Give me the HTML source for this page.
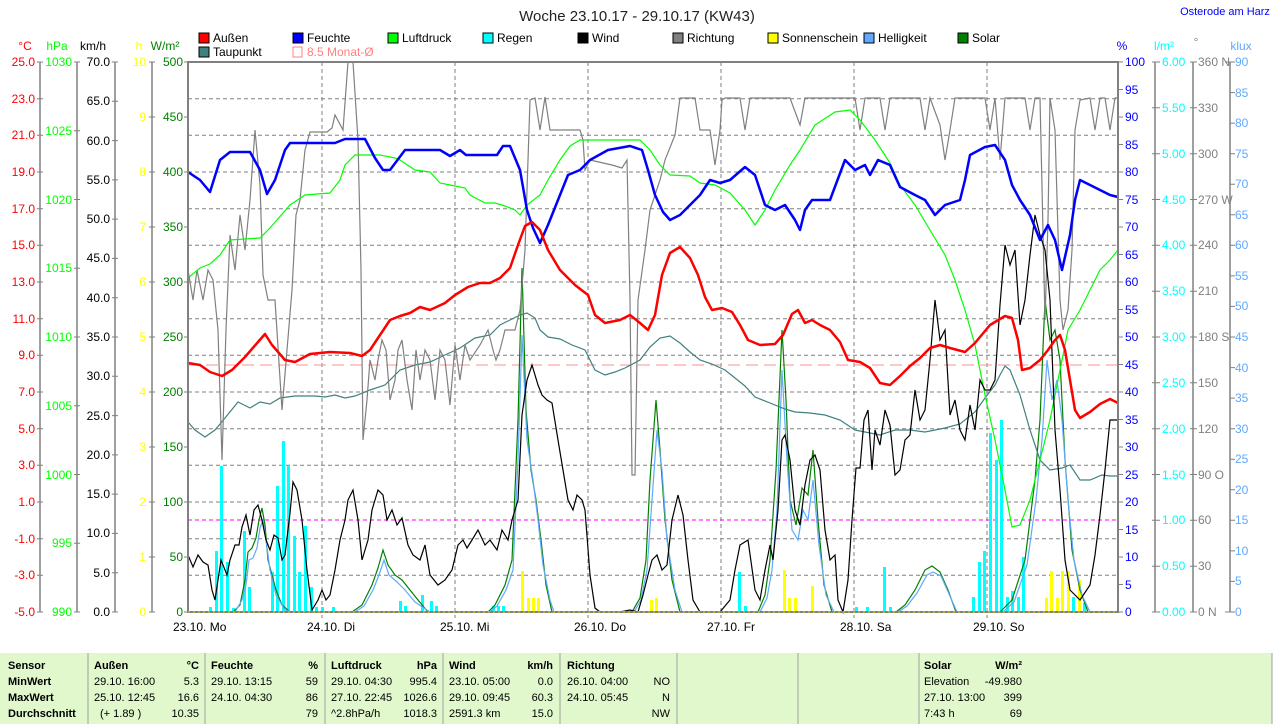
<!DOCTYPE html>
<html><head><meta charset="utf-8">
<style>
html,body{margin:0;padding:0;background:#fff;width:1274px;height:724px;overflow:hidden;}
svg{display:block;font-family:"Liberation Sans",sans-serif;}
.t{font-family:"Liberation Sans",sans-serif;font-size:11px;font-weight:bold;}
.n{font-family:"Liberation Sans",sans-serif;font-size:11px;}
</style></head><body>
<svg width="1274" height="724" viewBox="0 0 1274 724" xmlns="http://www.w3.org/2000/svg">
<rect width="1274" height="724" fill="#fff"/>
<text x="637" y="21" font-size="15" text-anchor="middle" fill="#222">Woche 23.10.17 - 29.10.17 (KW43)</text>
<text x="1225" y="15" font-size="11" text-anchor="middle" fill="#0000ff">Osterode am Harz</text>
<!-- legend -->
<g font-size="12" fill="#000">
<rect x="199" y="33" width="10" height="10" fill="#ff0000" stroke="#000"/><text x="213" y="42">Außen</text>
<rect x="293" y="33" width="10" height="10" fill="#0000ff" stroke="#000"/><text x="307" y="42">Feuchte</text>
<rect x="388" y="33" width="10" height="10" fill="#00ff00" stroke="#000"/><text x="402" y="42">Luftdruck</text>
<rect x="483" y="33" width="10" height="10" fill="#00ffff" stroke="#000"/><text x="497" y="42">Regen</text>
<rect x="578" y="33" width="10" height="10" fill="#000" stroke="#000"/><text x="592" y="42">Wind</text>
<rect x="673" y="33" width="10" height="10" fill="#808080" stroke="#000"/><text x="687" y="42">Richtung</text>
<rect x="768" y="33" width="10" height="10" fill="#ffff00" stroke="#000"/><text x="782" y="42">Sonnenschein</text>
<rect x="864" y="33" width="10" height="10" fill="#60a8ff" stroke="#000"/><text x="878" y="42">Helligkeit</text>
<rect x="958" y="33" width="10" height="10" fill="#008000" stroke="#000"/><text x="972" y="42">Solar</text>
<rect x="199" y="47" width="10" height="10" fill="#408080" stroke="#000"/><text x="213" y="56">Taupunkt</text>
<rect x="293" y="47" width="9" height="10" fill="none" stroke="#ff8080"/><text x="307" y="56" fill="#ff8080">8.5 Monat-Ø</text>
</g>
<!-- axis units -->
<g font-size="12">
<text x="25" y="50" fill="#ff0000" text-anchor="middle">°C</text>
<text x="57" y="50" fill="#00ff00" text-anchor="middle">hPa</text>
<text x="93" y="50" fill="#000" text-anchor="middle">km/h</text>
<text x="139" y="50" fill="#ffff00" text-anchor="middle">h</text>
<text x="165" y="50" fill="#008000" text-anchor="middle">W/m²</text>
<text x="1122" y="50" fill="#0000ff" text-anchor="middle">%</text>
<text x="1164" y="50" fill="#00ffff" text-anchor="middle">l/m²</text>
<text x="1196" y="46" fill="#808080" text-anchor="middle">°</text>
<text x="1241" y="50" fill="#60a8ff" text-anchor="middle">klux</text>
</g>
<!-- axis lines -->
<g stroke="#808080" stroke-width="1.5">
<line x1="40" y1="62" x2="40" y2="612"/><line x1="77" y1="62" x2="77" y2="612"/>
<line x1="115" y1="62" x2="115" y2="612"/><line x1="152" y1="62" x2="152" y2="612"/>
<line x1="1155" y1="62" x2="1155" y2="612"/><line x1="1193" y1="62" x2="1193" y2="612"/>
<line x1="1230" y1="62" x2="1230" y2="612"/>
</g>
<g font-size="12" fill="#ff0000" text-anchor="end">
<text x="35" y="66">25.0</text><text x="35" y="103">23.0</text><text x="35" y="139">21.0</text><text x="35" y="176">19.0</text><text x="35" y="213">17.0</text><text x="35" y="249">15.0</text><text x="35" y="286">13.0</text><text x="35" y="323">11.0</text><text x="35" y="359">9.0</text><text x="35" y="396">7.0</text><text x="35" y="433">5.0</text><text x="35" y="469">3.0</text><text x="35" y="506">1.0</text><text x="35" y="543">-1.0</text><text x="35" y="579">-3.0</text><text x="35" y="616">-5.0</text>
</g>
<g stroke="#808080"><path d="M37 62h6M37 98.7h6M37 135.3h6M37 172h6M37 208.7h6M37 245.3h6M37 282h6M37 318.7h6M37 355.3h6M37 392h6M37 428.7h6M37 465.3h6M37 502h6M37 538.7h6M37 575.3h6M37 612h6"/>
<path d="M74 62h6M74 130.75h6M74 199.5h6M74 268.25h6M74 337h6M74 405.75h6M74 474.5h6M74 543.25h6M74 612h6"/>
<path d="M112 62h6M112 101.3h6M112 140.6h6M112 179.9h6M112 219.1h6M112 258.4h6M112 297.7h6M112 337h6M112 376.3h6M112 415.6h6M112 454.9h6M112 494.1h6M112 533.4h6M112 572.7h6M112 612h6"/>
<path d="M149 62h6M149 117h6M149 172h6M149 227h6M149 282h6M149 337h6M149 392h6M149 447h6M149 502h6M149 557h6M149 612h6"/>
<path d="M184 62h4M184 117h4M184 172h4M184 227h4M184 282h4M184 337h4M184 392h4M184 447h4M184 502h4M184 557h4M184 612h4"/>
<path d="M1118 62h5M1118 89.5h5M1118 117h5M1118 144.5h5M1118 172h5M1118 199.5h5M1118 227h5M1118 254.5h5M1118 282h5M1118 309.5h5M1118 337h5M1118 364.5h5M1118 392h5M1118 419.5h5M1118 447h5M1118 474.5h5M1118 502h5M1118 529.5h5M1118 557h5M1118 584.5h5M1118 612h5"/>
<path d="M1152 62h8M1152 107.8h8M1152 153.7h8M1152 199.5h8M1152 245.3h8M1152 291.2h8M1152 337h8M1152 382.8h8M1152 428.7h8M1152 474.5h8M1152 520.3h8M1152 566.2h8M1152 612h8"/>
<path d="M1190 62h7M1190 107.8h7M1190 153.7h7M1190 199.5h7M1190 245.3h7M1190 291.2h7M1190 337h7M1190 382.8h7M1190 428.7h7M1190 474.5h7M1190 520.3h7M1190 566.2h7M1190 612h7"/>
<path d="M1225 62h10M1230 92.6h5M1230 123.1h5M1230 153.7h5M1230 184.2h5M1230 214.8h5M1230 245.3h5M1230 275.9h5M1230 306.4h5M1230 337h5M1230 367.6h5M1230 398.1h5M1230 428.7h5M1230 459.2h5M1230 489.8h5M1230 520.3h5M1230 550.9h5M1230 581.4h5M1225 612h10"/>
</g>
<g font-size="12" fill="#00ff00" text-anchor="end">
<text x="72" y="66">1030</text><text x="72" y="135">1025</text><text x="72" y="204">1020</text><text x="72" y="272">1015</text><text x="72" y="341">1010</text><text x="72" y="410">1005</text><text x="72" y="479">1000</text><text x="72" y="547">995</text><text x="72" y="616">990</text>
</g>
<g font-size="12" fill="#000" text-anchor="end">
<text x="110" y="66">70.0</text><text x="110" y="105">65.0</text><text x="110" y="145">60.0</text><text x="110" y="184">55.0</text><text x="110" y="223">50.0</text><text x="110" y="262">45.0</text><text x="110" y="302">40.0</text><text x="110" y="341">35.0</text><text x="110" y="380">30.0</text><text x="110" y="420">25.0</text><text x="110" y="459">20.0</text><text x="110" y="498">15.0</text><text x="110" y="537">10.0</text><text x="110" y="577">5.0</text><text x="110" y="616">0.0</text>
</g>
<g font-size="12" fill="#ffff00" text-anchor="end">
<text x="146" y="66">10</text><text x="146" y="121">9</text><text x="146" y="176">8</text><text x="146" y="231">7</text><text x="146" y="286">6</text><text x="146" y="341">5</text><text x="146" y="396">4</text><text x="146" y="451">3</text><text x="146" y="506">2</text><text x="146" y="561">1</text><text x="146" y="616">0</text>
</g>
<g font-size="12" fill="#008000" text-anchor="end">
<text x="183" y="66">500</text><text x="183" y="121">450</text><text x="183" y="176">400</text><text x="183" y="231">350</text><text x="183" y="286">300</text><text x="183" y="341">250</text><text x="183" y="396">200</text><text x="183" y="451">150</text><text x="183" y="506">100</text><text x="183" y="561">50</text><text x="183" y="616">0</text>
</g>
<g font-size="12" fill="#0000ff">
<text x="1125" y="66">100</text><text x="1125" y="94">95</text><text x="1125" y="121">90</text><text x="1125" y="149">85</text><text x="1125" y="176">80</text><text x="1125" y="204">75</text><text x="1125" y="231">70</text><text x="1125" y="259">65</text><text x="1125" y="286">60</text><text x="1125" y="314">55</text><text x="1125" y="341">50</text><text x="1125" y="369">45</text><text x="1125" y="396">40</text><text x="1125" y="424">35</text><text x="1125" y="451">30</text><text x="1125" y="479">25</text><text x="1125" y="506">20</text><text x="1125" y="534">15</text><text x="1125" y="561">10</text><text x="1125" y="589">5</text><text x="1125" y="616">0</text>
</g>
<g font-size="12" fill="#00ffff">
<text x="1162" y="66">6.00</text><text x="1162" y="112">5.50</text><text x="1162" y="158">5.00</text><text x="1162" y="204">4.50</text><text x="1162" y="249">4.00</text><text x="1162" y="295">3.50</text><text x="1162" y="341">3.00</text><text x="1162" y="387">2.50</text><text x="1162" y="433">2.00</text><text x="1162" y="479">1.50</text><text x="1162" y="524">1.00</text><text x="1162" y="570">0.50</text><text x="1162" y="616">0.00</text>
</g>
<g font-size="12" fill="#808080">
<text x="1198" y="66">360 N</text><text x="1198" y="112">330</text><text x="1198" y="158">300</text><text x="1198" y="204">270 W</text><text x="1198" y="249">240</text><text x="1198" y="295">210</text><text x="1198" y="341">180 S</text><text x="1198" y="387">150</text><text x="1198" y="433">120</text><text x="1198" y="479">90 O</text><text x="1198" y="524">60</text><text x="1198" y="570">30</text><text x="1198" y="616">0 N</text>
</g>
<g font-size="12" fill="#60a8ff">
<text x="1235" y="66">90</text><text x="1235" y="97">85</text><text x="1235" y="127">80</text><text x="1235" y="158">75</text><text x="1235" y="188">70</text><text x="1235" y="219">65</text><text x="1235" y="249">60</text><text x="1235" y="280">55</text><text x="1235" y="310">50</text><text x="1235" y="341">45</text><text x="1235" y="372">40</text><text x="1235" y="402">35</text><text x="1235" y="433">30</text><text x="1235" y="463">25</text><text x="1235" y="494">20</text><text x="1235" y="524">15</text><text x="1235" y="555">10</text><text x="1235" y="585">5</text><text x="1235" y="616">0</text>
</g>
<!-- grid -->
<g stroke="#808080" stroke-dasharray="4,3" stroke-width="1">
<path d="M188 98.7H1118M188 135.3H1118M188 172H1118M188 208.7H1118M188 245.3H1118M188 282H1118M188 318.7H1118M188 355.3H1118M188 392H1118M188 428.7H1118M188 465.3H1118M188 502H1118M188 538.7H1118M188 575.3H1118"/>
<path d="M322 62V618M455 62V618M588 62V618M721 62V618M854 62V618M987 62V618"/>
</g>
<line x1="188" y1="365" x2="1118" y2="365" stroke="#ff9090" stroke-dasharray="12,6"/>
<line x1="188" y1="520" x2="1118" y2="520" stroke="#ff00ff" stroke-dasharray="4,3"/>
<!-- rain bars -->
<g fill="#00ffff">
<rect x="209" y="607" width="3" height="5"/><rect x="215" y="551" width="3" height="61"/><rect x="220" y="466" width="3" height="146"/><rect x="226" y="562" width="3" height="50"/><rect x="232" y="608" width="3" height="4"/><rect x="243" y="531" width="3" height="81"/><rect x="248" y="587" width="3" height="25"/><rect x="271" y="572" width="3" height="40"/><rect x="276" y="486" width="3" height="126"/><rect x="282" y="441" width="3" height="171"/><rect x="287" y="466" width="3" height="146"/><rect x="293" y="536" width="3" height="76"/><rect x="298" y="572" width="3" height="40"/><rect x="304" y="526" width="3" height="86"/><rect x="310" y="587" width="3" height="25"/><rect x="315" y="607" width="3" height="5"/><rect x="321" y="607" width="3" height="5"/><rect x="332" y="607" width="3" height="5"/>
<rect x="399" y="601" width="3" height="11"/><rect x="404" y="606" width="3" height="6"/><rect x="421" y="595" width="3" height="17"/><rect x="430" y="601" width="3" height="11"/><rect x="435" y="606" width="3" height="6"/>
<rect x="492" y="606" width="3" height="6"/><rect x="497" y="606" width="3" height="6"/><rect x="502" y="606" width="3" height="6"/>
<rect x="738" y="572" width="3" height="40"/><rect x="744" y="606" width="3" height="6"/>
<rect x="855" y="607" width="3" height="5"/><rect x="866" y="607" width="3" height="5"/><rect x="883" y="567" width="3" height="45"/><rect x="889" y="607" width="3" height="5"/>
<rect x="972" y="597" width="3" height="15"/><rect x="978" y="562" width="3" height="50"/><rect x="983" y="551" width="3" height="61"/><rect x="989" y="433" width="3" height="179"/><rect x="995" y="460" width="3" height="152"/><rect x="1000" y="420" width="3" height="192"/><rect x="1006" y="597" width="3" height="15"/><rect x="1011" y="591" width="3" height="21"/><rect x="1017" y="597" width="3" height="15"/><rect x="1022" y="557" width="3" height="55"/><rect x="1067" y="606" width="3" height="6"/><rect x="1072" y="597" width="3" height="15"/><rect x="1083" y="603" width="3" height="9"/>
</g>
<!-- sunshine bars -->
<g fill="#ffff00">
<rect x="521" y="571" width="3" height="41"/><rect x="527" y="598" width="3" height="14"/><rect x="532" y="598" width="3" height="14"/><rect x="537" y="598" width="3" height="14"/>
<rect x="650" y="600" width="3" height="12"/><rect x="655" y="598" width="3" height="14"/>
<rect x="783" y="570" width="3" height="42"/><rect x="788" y="598" width="3" height="14"/><rect x="794" y="598" width="3" height="14"/><rect x="811" y="586" width="3" height="26"/>
<rect x="1045" y="598" width="3" height="14"/><rect x="1050" y="571" width="3" height="41"/><rect x="1056" y="598" width="3" height="14"/><rect x="1061" y="571" width="3" height="41"/><rect x="1067" y="571" width="3" height="41"/><rect x="1078" y="580" width="3" height="32"/>
</g>
<!-- solar -->
<polyline fill="none" stroke="#008000" stroke-width="1.2" points="188,612 233,612 240,605 245,580 248,552 252,548 256,538 259,520 262,508 265,525 268,560 272,575 276,590 282,605 290,612 352,612 362,605 372,585 378,568 383,550 388,565 395,575 402,580 410,590 418,600 428,612 488,612 495,605 505,585 512,560 518,420 522,268 526,410 531,470 536,500 541,540 546,585 552,612 632,612 640,598 646,560 650,480 656,400 660,450 665,520 672,580 680,612 758,612 765,595 770,560 776,470 782,330 786,400 790,500 796,525 802,488 808,495 813,450 818,520 824,585 832,612 896,612 905,605 915,590 925,570 932,566 940,572 948,590 956,612 1000,612 1012,600 1025,560 1035,480 1040,420 1045,300 1050,340 1055,330 1060,360 1065,460 1072,550 1080,590 1088,612 1118,612"/>
<polyline fill="none" stroke="#60a8ff" stroke-width="1.2" points="188,612 235,612 242,600 246,585 249,560 253,558 257,548 260,528 263,520 266,540 270,570 276,595 285,610 292,612 355,612 364,606 373,590 379,575 384,560 389,575 397,582 405,590 415,602 430,612 490,612 497,606 506,590 513,570 518,460 522,335 527,440 533,480 538,520 543,565 550,600 554,612 634,612 641,600 647,570 652,500 657,430 662,470 667,540 675,590 682,612 760,612 767,598 772,570 777,510 782,370 787,460 792,530 798,540 803,510 808,520 813,480 819,545 826,595 834,612 898,612 907,606 917,593 927,575 933,572 941,576 949,594 957,612 1003,612 1014,602 1027,565 1036,500 1042,440 1047,360 1052,400 1057,380 1062,420 1068,500 1074,560 1082,595 1090,612 1118,612"/>
<!-- taupunkt -->
<polyline fill="none" stroke="#408080" stroke-width="1.2" points="188,422 195,430 205,437 215,430 225,418 238,402 250,408 260,402 270,404 280,398 295,396 315,396 325,397 335,395 345,398 355,396 370,390 385,385 400,370 415,365 430,362 445,355 460,348 475,338 490,335 500,325 510,320 520,315 527,313 535,318 540,330 548,337 560,339 572,345 585,350 595,370 605,375 615,372 625,368 640,360 650,347 660,338 670,336 680,343 690,352 700,360 712,364 725,370 735,378 745,386 755,397 770,403 785,409 795,412 810,413 825,415 840,420 855,430 865,432 880,435 895,430 910,430 925,432 945,428 960,424 975,412 985,398 995,385 1000,375 1005,366 1010,370 1020,395 1030,430 1040,460 1050,470 1062,468 1070,465 1080,480 1090,480 1102,475 1110,476 1118,476"/>
<!-- richtung -->
<polyline fill="none" stroke="#808080" stroke-width="1.2" points="188,270 193,300 197,270 203,300 208,270 213,280 218,330 222,460 226,330 230,235 235,270 240,215 245,250 250,200 255,130 260,185 263,275 268,300 275,300 282,410 287,350 292,290 296,215 300,200 305,150 310,132 327,132 332,128 335,115 343,130 348,62 353,62 358,140 361,270 363,440 367,400 370,360 375,380 378,360 382,340 386,350 390,400 395,380 398,350 402,340 407,380 412,410 416,350 420,380 425,350 430,360 435,400 440,350 445,360 450,405 455,345 460,380 465,345 470,360 480,345 488,330 493,350 496,360 500,350 505,330 515,330 520,310 525,250 530,100 535,98 540,130 545,97 550,130 565,130 580,130 583,140 585,170 590,160 612,165 622,168 627,160 630,300 632,475 635,475 638,300 645,250 650,210 660,180 665,160 675,135 680,98 695,98 700,130 710,130 715,165 720,130 722,100 725,98 740,98 745,130 750,98 790,98 800,125 805,98 855,98 860,130 865,98 880,98 885,130 890,98 920,98 925,130 930,98 940,125 945,160 950,130 955,98 985,98 990,130 995,98 1000,160 1005,98 1025,98 1030,130 1035,98 1040,98 1045,320 1048,220 1050,98 1055,130 1060,300 1063,330 1068,310 1072,250 1075,130 1080,100 1090,98 1095,130 1100,98 1105,98 1110,130 1115,98 1118,98"/>
<!-- luftdruck -->
<polyline fill="none" stroke="#00ff00" stroke-width="1.2" points="188,278 200,268 210,264 220,255 230,240 260,238 270,228 290,205 305,195 330,193 340,180 345,165 355,155 380,155 395,158 400,160 415,170 430,172 440,183 455,186 465,188 470,195 485,203 495,203 505,206 515,210 520,215 527,205 540,195 548,180 560,160 570,146 580,140 600,140 640,140 650,150 660,165 670,175 690,176 700,183 715,185 730,193 745,210 755,225 765,210 775,190 790,165 800,150 815,125 835,112 850,110 860,120 875,140 890,163 900,185 915,205 930,230 945,255 955,280 965,310 975,345 985,395 995,440 1005,490 1012,527 1020,525 1030,500 1040,460 1050,420 1058,380 1068,330 1080,310 1090,290 1100,270 1110,260 1118,250"/>
<!-- wind -->
<polyline fill="none" stroke="#000" stroke-width="1.2" points="188,555 193,567 198,555 203,562 208,565 212,590 215,600 218,580 221,560 227,575 230,560 235,545 239,545 242,527 246,515 250,535 254,510 258,505 262,520 266,540 270,550 274,535 278,538 282,560 285,555 290,513 293,482 297,490 302,520 307,570 312,610 318,600 322,590 326,600 330,595 335,570 340,540 345,520 348,500 353,490 358,520 362,560 368,540 372,510 378,490 383,495 387,520 392,510 397,525 402,518 408,545 413,555 420,560 425,545 430,575 438,585 445,580 452,570 458,545 463,540 467,548 472,540 478,530 485,545 490,540 497,550 502,530 508,540 512,520 518,500 522,415 527,380 532,365 538,385 542,395 547,400 552,403 558,440 563,470 568,500 573,510 577,495 582,500 585,510 590,575 595,608 600,612 620,612 630,610 638,612 643,595 648,575 652,560 657,555 662,570 667,565 672,520 678,495 683,515 688,560 693,600 700,612 720,612 730,600 735,570 740,545 748,540 755,590 760,600 765,570 770,545 773,560 778,510 782,440 785,435 790,460 795,510 800,525 805,485 810,460 815,455 820,470 825,530 830,560 835,555 838,600 843,612 848,580 852,520 856,468 860,468 864,420 868,410 872,470 875,430 880,445 885,410 890,425 895,475 900,470 905,440 910,435 915,390 920,420 925,410 930,360 935,300 940,340 945,330 950,415 955,400 960,430 965,440 970,405 975,430 980,380 985,390 990,390 995,380 1000,305 1005,245 1010,265 1015,250 1020,325 1025,300 1030,255 1035,215 1040,235 1045,250 1050,300 1055,430 1060,490 1065,560 1070,590 1080,600 1090,585 1095,555 1100,515 1105,470 1110,420 1118,420"/>
<!-- feuchte -->
<polyline fill="none" stroke="#0000ff" stroke-width="2.5" stroke-linejoin="round" points="188,172 200,180 210,192 220,160 230,152 250,152 260,170 267,194 275,180 285,150 290,143 335,143 345,139 365,139 375,158 383,170 390,170 405,150 440,150 450,156 460,150 466,155 497,155 503,146 510,146 520,170 527,210 533,228 540,243 548,225 560,195 568,175 580,170 590,160 608,150 630,146 642,150 648,170 655,195 663,212 670,220 680,215 690,205 700,195 710,180 720,183 730,180 745,167 755,175 765,205 775,210 785,205 795,220 800,230 805,210 812,200 830,200 845,160 855,170 865,165 870,175 878,160 890,165 900,187 915,195 925,200 935,215 945,205 960,200 965,180 970,155 985,147 995,145 1005,160 1012,185 1020,200 1030,215 1040,240 1048,225 1055,240 1062,270 1070,235 1075,200 1080,180 1090,185 1100,190 1110,195 1118,197"/>
<!-- aussen -->
<polyline fill="none" stroke="#ff0000" stroke-width="2.5" stroke-linejoin="round" points="188,363 200,365 210,372 222,376 232,370 245,357 258,342 265,334 272,345 285,360 295,362 310,354 330,352 350,353 362,356 370,350 380,335 390,320 400,316 410,313 420,307 430,310 445,303 455,295 468,287 480,283 490,283 500,278 510,268 518,245 525,226 532,222 540,230 548,250 560,270 575,285 588,295 595,315 605,323 620,320 630,315 640,323 648,330 655,315 662,275 670,253 680,247 690,258 698,275 705,297 712,310 722,308 732,312 740,325 748,340 760,345 775,344 783,335 792,314 798,310 805,323 812,320 820,325 830,330 840,342 848,360 860,362 870,368 880,383 890,385 900,376 910,366 920,358 930,348 940,345 950,348 965,352 975,343 990,325 1005,316 1012,318 1018,340 1022,370 1030,368 1040,360 1048,350 1055,340 1060,335 1065,350 1070,380 1075,410 1080,418 1090,412 1100,404 1110,399 1118,403"/>
<!-- plot frame -->
<rect x="188" y="62" width="930" height="550" fill="none" stroke="#808080" stroke-width="2"/>
<line x1="188" y1="612" x2="1118" y2="612" stroke="#dddd00" stroke-dasharray="2,3"/>
<!-- x labels -->
<g font-size="12" fill="#000">
<text x="173" y="631">23.10.  Mo</text><text x="307" y="631">24.10.  Di</text><text x="440" y="631">25.10.  Mi</text><text x="574" y="631">26.10.  Do</text><text x="707" y="631">27.10.  Fr</text><text x="840" y="631">28.10.  Sa</text><text x="973" y="631">29.10.  So</text>
</g>
<!-- table -->
<rect x="0" y="653" width="1272" height="71" fill="#e0f8cc"/>
<g stroke="#a0a0a0" stroke-width="1"><path d="M88 653V724M205 653V724M325 653V724M443 653V724M560 653V724M677 653V724M798 653V724M919 653V724M1272 653V724"/></g>
<g class="t" fill="#000">
<text x="8" y="669">Sensor</text><text x="8" y="685">MinWert</text><text x="8" y="701">MaxWert</text><text x="8" y="717">Durchschnitt</text>
<text x="94" y="669">Außen</text><text x="199" y="669" text-anchor="end">°C</text>
<text x="211" y="669">Feuchte</text><text x="318" y="669" text-anchor="end">%</text>
<text x="331" y="669">Luftdruck</text><text x="437" y="669" text-anchor="end">hPa</text>
<text x="449" y="669">Wind</text><text x="553" y="669" text-anchor="end">km/h</text>
<text x="567" y="669">Richtung</text>
<text x="924" y="669">Solar</text><text x="1022" y="669" text-anchor="end">W/m²</text>
</g>
<g class="n" fill="#000">
<text x="94" y="685">29.10.  16:00</text><text x="199" y="685" text-anchor="end">5.3</text>
<text x="94" y="701">25.10.  12:45</text><text x="199" y="701" text-anchor="end">16.6</text>
<text x="100" y="717">(+ 1.89 )</text><text x="199" y="717" text-anchor="end">10.35</text>
<text x="211" y="685">29.10.  13:15</text><text x="318" y="685" text-anchor="end">59</text>
<text x="211" y="701">24.10.  04:30</text><text x="318" y="701" text-anchor="end">86</text>
<text x="318" y="717" text-anchor="end">79</text>
<text x="331" y="685">29.10.  04:30</text><text x="437" y="685" text-anchor="end">995.4</text>
<text x="331" y="701">27.10.  22:45</text><text x="437" y="701" text-anchor="end">1026.6</text>
<text x="331" y="717">^2.8hPa/h</text><text x="437" y="717" text-anchor="end">1018.3</text>
<text x="449" y="685">23.10.  05:00</text><text x="553" y="685" text-anchor="end">0.0</text>
<text x="449" y="701">29.10.  09:45</text><text x="553" y="701" text-anchor="end">60.3</text>
<text x="449" y="717">2591.3 km</text><text x="553" y="717" text-anchor="end">15.0</text>
<text x="567" y="685">26.10.  04:00</text><text x="670" y="685" text-anchor="end">NO</text>
<text x="567" y="701">24.10.  05:45</text><text x="670" y="701" text-anchor="end">N</text>
<text x="670" y="717" text-anchor="end">NW</text>
<text x="924" y="685">Elevation</text><text x="1022" y="685" text-anchor="end">-49.980</text>
<text x="924" y="701">27.10.  13:00</text><text x="1022" y="701" text-anchor="end">399</text>
<text x="924" y="717">7:43 h</text><text x="1022" y="717" text-anchor="end">69</text>
</g>
</svg>
</body></html>
